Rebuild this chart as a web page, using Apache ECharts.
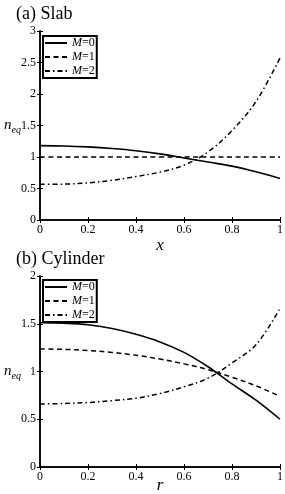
<!DOCTYPE html>
<html><head><meta charset="utf-8">
<script src="https://cdn.jsdelivr.net/npm/echarts@6/dist/echarts.min.js"></script>
<style>html,body{margin:0;padding:0;background:#fff}#c{width:285px;height:494px}</style>
</head><body><div id="c"></div>
<script>
const xs = [0,0.1,0.2,0.3,0.4,0.5,0.6,0.7,0.8,0.9,1.0];
const slabM0 = [1.18,1.175,1.16,1.135,1.10,1.05,0.985,0.92,0.855,0.765,0.66];
const slabM1 = [1,1,1,1,1,1,1,1,1,1,1];
const slabM2 = [0.566,0.57,0.59,0.63,0.69,0.76,0.87,1.08,1.42,1.88,2.57];
const cylM0 = [1.51,1.505,1.49,1.45,1.39,1.31,1.20,1.05,0.87,0.70,0.50];
const cylM1 = [1.235,1.232,1.22,1.20,1.17,1.13,1.08,1.02,0.94,0.85,0.74];
const cylM2 = [0.66,0.665,0.675,0.695,0.72,0.77,0.84,0.93,1.09,1.28,1.66];
const names = ['M=0','M=1','M=2'];
const titles = ['(a) Slab','(b) Cylinder'];
const xNames = ['x','r'];

const FONT = 'Liberation Serif';
const pairs = a => xs.map((x,i)=>[x,a[i]]);
const styles = [
  {type:'solid', width:1.6},
  {type:[5,3.5], width:1.5},
  {type:[5,3,1.5,3], width:1.5}
];
const grids = [
  {left:40, right:5, top:31, height:189, outerBoundsMode:'none', containLabel:false},
  {left:40, right:5, top:276, height:191, outerBoundsMode:'none', containLabel:false}
];
const yMax = [3,2];
const xNameGap = [17, 10];
const xAxes = [], yAxes = [];
grids.forEach((g,gi)=>{
  xAxes.push({type:'value', gridIndex:gi, min:0, max:1, interval:0.2, position:'bottom',
    name:xNames[gi], nameLocation:'middle', nameGap:xNameGap[gi], nameMoveOverlap:false,
    nameTextStyle:{fontFamily:FONT, fontStyle:'italic', fontSize:17, color:'#000'},
    axisLine:{lineStyle:{color:'#000', width:1.5}},
    axisTick:{inside:true, length:3, lineStyle:{color:'#000'}},
    axisLabel:{fontFamily:FONT, fontSize:12, color:'#000', margin:4,
      formatter:v=>String(+v.toFixed(1))},
    splitLine:{show:false}});
  xAxes.push({type:'value', gridIndex:gi, min:0, max:1, interval:0.2, position:'top',
    axisLine:{lineStyle:{color:'#000', width:1.5}},
    axisTick:{inside:true, length:3, lineStyle:{color:'#000'}},
    axisLabel:{show:false}, splitLine:{show:false}});
  yAxes.push({type:'value', gridIndex:gi, min:0, max:yMax[gi], interval:0.5, position:'left',
    name:'{n|n}{s|eq}', nameLocation:'middle', nameGap:19, nameRotate:0, nameMoveOverlap:false,
    nameTextStyle:{rich:{
      n:{fontFamily:FONT, fontStyle:'italic', fontSize:15, color:'#000'},
      s:{fontFamily:FONT, fontStyle:'italic', fontSize:10, color:'#000', padding:[9,0,0,0]}}},
    axisLine:{lineStyle:{color:'#000', width:1.5}},
    axisTick:{inside:true, length:3, lineStyle:{color:'#000'}},
    axisLabel:{fontFamily:FONT, fontSize:12, color:'#000', margin:4},
    splitLine:{show:false}});
  yAxes.push({type:'value', gridIndex:gi, min:0, max:yMax[gi], interval:0.5, position:'right',
    axisLine:{lineStyle:{color:'#000', width:1.5}},
    axisTick:{inside:true, length:3, lineStyle:{color:'#000'}},
    axisLabel:{show:false}, splitLine:{show:false}});
});
const data = [[slabM0,slabM1,slabM2],[cylM0,cylM1,cylM2]];
const series = [];
data.forEach((set,gi)=>set.forEach((arr,si)=>{
  series.push({type:'line', name:names[si], xAxisIndex:gi*2, yAxisIndex:gi*2,
    data:pairs(arr), showSymbol:false, symbol:'none', smooth:0.35,
    lineStyle:{color:'#000', type:styles[si].type, width:styles[si].width},
    itemStyle:{color:'#000'}, animation:false, silent:true});
}));
const legendTops = [36, 280];
const legends = legendTops.map(t=>({
  left:43, top:t, orient:'vertical', data:names,
  borderColor:'#000', borderWidth:2, padding:[1,2,1,1], itemGap:2,
  itemWidth:22, itemHeight:11, selectedMode:false,
  itemStyle:{opacity:0, borderWidth:0},
  formatter:n=>'{i|M}'+n.slice(1),
  textStyle:{fontFamily:FONT, fontSize:12, color:'#000', rich:{i:{fontFamily:FONT, fontStyle:'italic', fontSize:12, color:'#000'}}}
}));
const chart = echarts.init(document.getElementById('c'), null, {renderer:'canvas'});
chart.setOption({
  animation:false,
  title: titles.map((t,i)=>({text:t, left:11, top:i===0?0:245,
    textStyle:{fontFamily:FONT, fontSize:18, fontWeight:'normal', color:'#000'}})),
  grid:grids, xAxis:xAxes, yAxis:yAxes, series:series, legend:legends
});
</script></body></html>
